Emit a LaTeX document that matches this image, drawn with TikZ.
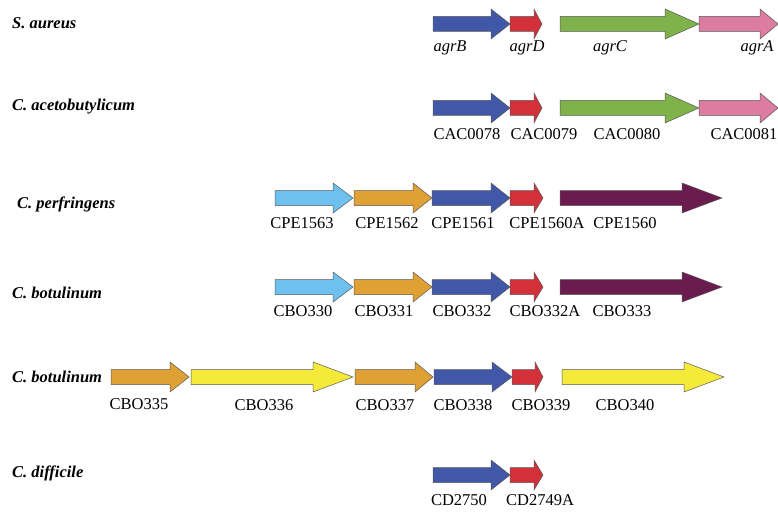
\documentclass[tikz,border=0pt]{standalone}
\usepackage{fontspec}
\setmainfont{Liberation Serif}
\usepackage{tikz}
\definecolor{gblue}{HTML}{4157A8}
\definecolor{gred}{HTML}{D3313A}
\definecolor{ggreen}{HTML}{7FB24A}
\definecolor{gpink}{HTML}{DB7CA0}
\definecolor{gsky}{HTML}{6EC1EE}
\definecolor{gorange}{HTML}{DFA034}
\definecolor{gpurple}{HTML}{6B1C4E}
\definecolor{gyellow}{HTML}{F5EA3A}
% gene arrow: start, head base, tip, y, colour
\newcommand{\gene}[5]{%
  \draw[fill=#5, draw=black!65, line width=0.5pt]
    ({#1},{#4-7.5}) -- ({#2},{#4-7.5}) -- ({#2},{#4-15}) -- ({#3},{#4})
    -- ({#2},{#4+15}) -- ({#2},{#4+7.5}) -- ({#1},{#4+7.5}) -- cycle;}
\tikzset{
  genelbl/.style={inner sep=0pt},
  species/.style={inner sep=0pt, anchor=west, font=\fontsize{16.5}{18}\selectfont\bfseries\itshape}
}

\begin{document}
\begin{tikzpicture}[x=1pt, y=-1pt, font=\fontsize{16.5}{18}\selectfont]

        \useasboundingbox (0, 0) rectangle (778, 513);

        % organismes
        \node[species] (sau) at (12, 23) {S. aureus};
        \node[species] (cac) at (12, 107) {C. acetobutylicum};
        \node[species] (cpe) at (17, 204) {C. perfringens};
        \node[species] (cbo1) at (12, 293) {C. botulinum};
        \node[species] (cbo2) at (12, 377) {C. botulinum};
        \node[species] (cdi) at (12, 473) {C. difficile};

        % S. aureus
        \gene{433}{491}{510}{24}{gblue}
        \gene{510}{534}{542}{24}{gred}
        \gene{560}{665}{699}{24}{ggreen}
        \gene{699}{760}{778}{24}{gpink}
        \node[genelbl] (agrB) at (450, 48) {\itshape agrB};
        \node[genelbl] (agrD) at (527, 48) {\itshape agrD};
        \node[genelbl] (agrC) at (610, 48) {\itshape agrC};
        \node[genelbl] (agrA) at (757, 48) {\itshape agrA};

        % C. acetobutylicum
        \gene{433}{491}{510}{108}{gblue}
        \gene{510}{534}{542}{108}{gred}
        \gene{560}{665}{699}{108}{ggreen}
        \gene{699}{760}{778}{108}{gpink}
        \node[genelbl] (cac78) at (467, 134) {CAC0078};
        \node[genelbl] (cac79) at (544, 134) {CAC0079};
        \node[genelbl] (cac80) at (627, 134) {CAC0080};
        \node[genelbl] (cac81) at (744, 134) {CAC0081};

        % C. perfringens
        \gene{275}{333}{353}{198}{gsky}
        \gene{354}{413}{432}{198}{gorange}
        \gene{432}{491}{510}{198}{gblue}
        \gene{510}{534}{543}{198}{gred}
        \gene{560}{682}{722}{198}{gpurple}
        \node[genelbl] (cpe63) at (302, 223) {CPE1563};
        \node[genelbl] (cpe62) at (387, 223) {CPE1562};
        \node[genelbl] (cpe61) at (463, 223) {CPE1561};
        \node[genelbl] (cpe60a) at (547, 223) {CPE1560A};
        \node[genelbl] (cpe60) at (625, 223) {CPE1560};

        % C. botulinum (1)
        \gene{275}{333}{353}{287}{gsky}
        \gene{354}{413}{432}{287}{gorange}
        \gene{432}{491}{510}{287}{gblue}
        \gene{510}{534}{543}{287}{gred}
        \gene{560}{682}{722}{287}{gpurple}
        \node[genelbl] (cbo330) at (303, 311) {CBO330};
        \node[genelbl] (cbo331) at (384, 311) {CBO331};
        \node[genelbl] (cbo332) at (462, 311) {CBO332};
        \node[genelbl] (cbo332a) at (545, 311) {CBO332A};
        \node[genelbl] (cbo333) at (622, 311) {CBO333};

        % C. botulinum (2)
        \gene{111}{170}{189}{377}{gorange}
        \gene{191}{313}{353}{377}{gyellow}
        \gene{355}{415}{433}{377}{gorange}
        \gene{434}{492}{512}{377}{gblue}
        \gene{512}{535}{543}{377}{gred}
        \gene{562}{684}{724}{377}{gyellow}
        \node[genelbl] (cbo335) at (139, 404) {CBO335};
        \node[genelbl] (cbo336) at (264, 405) {CBO336};
        \node[genelbl] (cbo337) at (385, 405) {CBO337};
        \node[genelbl] (cbo338) at (463, 405) {CBO338};
        \node[genelbl] (cbo339) at (541, 405) {CBO339};
        \node[genelbl] (cbo340) at (625, 405) {CBO340};

        % C. difficile
        \gene{433}{491}{510}{475}{gblue}
        \gene{510}{534}{543}{475}{gred}
        \node[genelbl] (cd2750) at (459, 500) {CD2750};
        \node[genelbl] (cd2749a) at (540, 500) {CD2749A};

\end{tikzpicture}
\end{document}
